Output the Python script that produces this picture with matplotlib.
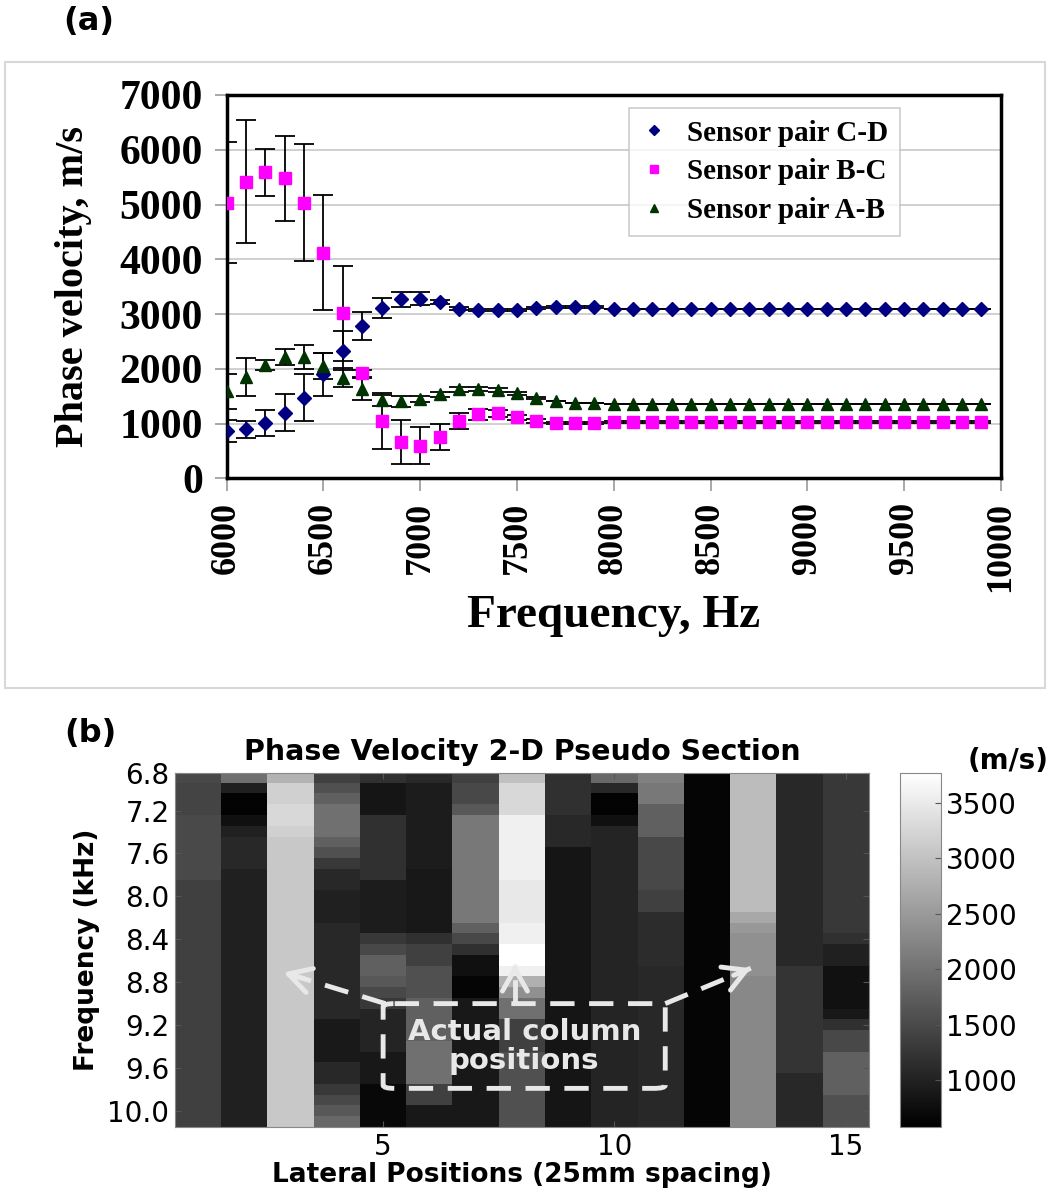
import numpy as np
import matplotlib
matplotlib.use("Agg")
import matplotlib.pyplot as plt
from matplotlib.patches import Rectangle, FancyBboxPatch

# (a) phase velocity vs frequency, three sensor pairs
freq = list(range(6000, 10000, 100))

cd_vel = [864, 895, 1017, 1199, 1473, 1899, 2331, 2782, 3104, 3269,
          3281, 3220, 3098, 3074, 3074, 3074, 3104, 3123, 3123, 3123,
          3100, 3100, 3100, 3100, 3100, 3100, 3100, 3100, 3100, 3100,
          3100, 3100, 3100, 3100, 3100, 3100, 3100, 3100, 3100, 3100]
cd_err = [200, 150, 240, 340, 425, 395, 360, 250, 183, 140,
          120, 40, 30, 20, 20, 20, 20, 20, 20, 20,
          0, 0, 0, 0, 0, 0, 0, 0, 0, 0,
          0, 0, 0, 0, 0, 0, 0, 0, 0, 0]

bc_vel = [5034, 5418, 5588, 5478, 5034, 4121, 3013, 1917, 1047, 670,
          597, 761, 1053, 1175, 1187, 1114, 1047, 1017, 1017, 1015,
          1030, 1030, 1030, 1030, 1030, 1030, 1030, 1030, 1030, 1030,
          1030, 1030, 1030, 1030, 1030, 1030, 1030, 1030, 1030, 1030]
bc_err = [1100, 1120, 426, 780, 1065, 1053, 870, 60, 515, 400,
          340, 235, 145, 100, 70, 50, 30, 20, 20, 20,
          15, 15, 15, 15, 15, 15, 15, 15, 15, 15,
          15, 15, 15, 15, 15, 15, 15, 15, 15, 15]

ab_vel = [1595, 1857, 2070, 2210, 2210, 2051, 1838, 1625, 1430, 1412,
          1449, 1534, 1625, 1631, 1613, 1552, 1461, 1412, 1382, 1370,
          1360, 1360, 1360, 1360, 1360, 1360, 1360, 1360, 1360, 1360,
          1360, 1360, 1360, 1360, 1360, 1360, 1360, 1360, 1360, 1360]
ab_err = [320, 350, 100, 145, 220, 240, 170, 200, 100, 100,
          60, 40, 40, 40, 40, 30, 20, 0, 0, 0,
          0, 0, 0, 0, 0, 0, 0, 0, 0, 0,
          0, 0, 0, 0, 0, 0, 0, 0, 0, 0]

# (b) pseudo section, one list per lateral position (33 rows, top to bottom)
pos1 = [1480] + [1430]*3 + [1500]*6 + [1380]*23
pos2 = [1980, 980, 620, 620, 780, 980] + [1100]*3 + [1000]*24
pos3 = [2830, 3180, 3180, 3280, 3280, 3180] + [3080]*27
pos4 = [1380, 1580, 1780, 1980, 1980, 1980, 1780, 1580, 1280, 1080, 1080,
        1000, 1000, 1000] + [1080]*9 + [900]*4 + [1080, 1080, 1280, 1480, 1680, 1880]
pos5 = [1180] + [840]*3 + [1180]*6 + [930]*5 + [1280, 1480, 1780, 1780, 1680,
        1480, 1280] + [1040]*4 + [880]*3 + [680]*4
pos6 = [1100] + [930]*8 + [880]*6 + [1180, 1380, 1380] + [1580]*3 + [1780]*4 \
       + [1980]*4 + [1380, 1380, 880, 880]
pos7 = [1380, 1480, 1480, 1680] + [2080]*10 + [1780, 1480, 1180, 780, 780,
        640, 640] + [880]*12
pos8 = [2980] + [3280]*3 + [3580]*6 + [3480]*4 + [3580, 3580, 3770, 3770, 3580,
        2780, 2380, 1980, 1980, 1380, 1380, 1380] + [1580]*7
pos9 = [1180]*4 + [1080]*3 + [840]*26
pos10 = [1880, 1080, 620, 620, 780] + [1030]*28
pos11 = [2180, 2080, 2080] + [1780]*3 + [1480]*5 + [1380]*2 + [1130]*5 + [1080]*15
pos12 = [640]*33
pos13 = [2930]*13 + [2680, 2480] + [2380]*4 + [2280]*14
pos14 = [1080]*18 + [1230]*10 + [1080]*5
pos15 = [1280]*15 + [1180, 980, 980, 800, 800, 800, 800, 880, 1180, 1480, 1480] \
        + [1780]*4 + [1580]*3

freq_ticks = [7.2, 7.6, 8.0, 8.4, 8.8, 9.2, 9.6, 10.0]
cbar_ticks = [1000, 1500, 2000, 2500, 3000, 3500]

serif = "Liberation Serif"
sans = "DejaVu Sans"

fig = plt.figure(figsize=(10.56, 11.96), dpi=100)

# light frame around the top chart
fig.patches.append(Rectangle((0.005, 0.425), 0.985, 0.523, transform=fig.transFigure,
                             fill=False, edgecolor="#d8d8d8", linewidth=1.5))

ax = fig.add_axes([0.2147, 0.600, 0.733, 0.3206])
ax.set_xlim(6000, 10000)
ax.set_ylim(0, 7000)
ax.set_yticks(range(0, 7001, 1000))
ax.set_xticks(range(6000, 10001, 500))
ax.grid(axis="y", color="#c8c8c8", linewidth=1.2)
ax.set_axisbelow(True)
for s in ax.spines.values():
    s.set_linewidth(2.5)

ax.errorbar(freq, cd_vel, yerr=cd_err, fmt="D", color="#000080", ms=7,
            ecolor="black", elinewidth=1.3, capsize=7, capthick=1.3,
            label="Sensor pair C-D", zorder=3)
ax.errorbar(freq, bc_vel, yerr=bc_err, fmt="s", color="#ff00ff", ms=8,
            ecolor="black", elinewidth=1.3, capsize=7, capthick=1.3,
            label="Sensor pair B-C", zorder=3)
ax.errorbar(freq, ab_vel, yerr=ab_err, fmt="^", color="#003300", ms=8,
            ecolor="black", elinewidth=1.3, capsize=7, capthick=1.3,
            label="Sensor pair A-B", zorder=3)

ax.tick_params(direction="out", length=9, color="#999999", width=1.2, pad=8)
for lab in ax.get_yticklabels():
    lab.set_fontfamily(serif)
    lab.set_fontweight("bold")
    lab.set_fontsize(30)
for lab in ax.get_xticklabels():
    lab.set_fontfamily(serif)
    lab.set_fontweight("bold")
    lab.set_fontsize(26)
    lab.set_rotation(90)
ax.set_ylabel("Phase velocity, m/s", fontfamily=serif, fontweight="bold",
              fontsize=29, labelpad=20)
ax.set_xlabel("Frequency, Hz", fontfamily=serif, fontweight="bold",
              fontsize=34, labelpad=2)

h, l = ax.get_legend_handles_labels()
h = [x[0] for x in h]
leg = ax.legend(h, l, loc="upper right", bbox_to_anchor=(0.87, 0.966),
                borderaxespad=0,
                prop={"family": serif, "weight": "bold", "size": 21},
                frameon=True, fancybox=False, edgecolor="#c0c0c0",
                handlelength=0.9, handletextpad=0.7, borderpad=0.4,
                labelspacing=0.4, markerscale=0.75)
leg.get_frame().set_linewidth(1.2)

fig.text(0.084, 0.982, "(a)", fontfamily=sans, fontweight="bold", fontsize=23,
         ha="center", va="center")

# (b) heatmap
sec = np.column_stack([pos1, pos2, pos3, pos4, pos5, pos6, pos7, pos8,
                       pos9, pos10, pos11, pos12, pos13, pos14, pos15])

ax2 = fig.add_axes([0.1657, 0.0577, 0.657, 0.296])
im = ax2.imshow(sec, cmap="gray", vmin=576, vmax=3770, aspect="auto",
                extent=(0.5, 15.5, 10.15, 6.85), interpolation="nearest")
ax2.set_yticks([6.85] + freq_ticks)
ax2.set_yticklabels(["6.8"] + ["%.1f" % f for f in freq_ticks], fontfamily=sans,
                    fontsize=20)
ax2.set_xticks([5, 10, 15])
ax2.set_xticklabels(["5", "10", "15"], fontfamily=sans, fontsize=20)
ax2.tick_params(direction="in", length=4, color="#555555", top=True, right=True,
                pad=4)
for s in ax2.spines.values():
    s.set_color("#888888")
ax2.set_title("Phase Velocity 2-D Pseudo Section", fontfamily=sans,
              fontweight="bold", fontsize=20.5, pad=9)
ax2.set_ylabel("Frequency (kHz)", fontfamily=sans, fontweight="bold", fontsize=19,
               labelpad=5)
ax2.set_xlabel("Lateral Positions (25mm spacing)", fontfamily=sans,
               fontweight="bold", fontsize=19, labelpad=1)

# annotation: dashed box and arrows toward the columns
ann_col = "#e8e8e8"
box = FancyBboxPatch((5.0, 9.0), 6.1, 0.79, boxstyle="round,pad=0,rounding_size=0.25",
                     mutation_aspect=0.12, fill=False, edgecolor=ann_col,
                     linewidth=3.5, linestyle=(0, (5, 3)))
ax2.add_patch(box)
ax2.text(8.05, 9.40, "Actual column\npositions", color=ann_col, fontfamily=sans,
         fontweight="bold", fontsize=21, ha="center", va="center", linespacing=1.05)
arrows = [((5.05, 9.0), (2.85, 8.71)), ((7.85, 9.0), (7.85, 8.63)),
          ((11.1, 9.0), (12.95, 8.67))]
for (x0, y0), (x1, y1) in arrows:
    ax2.plot([x0, x1], [y0, y1], color=ann_col, lw=3.5, ls=(0, (5, 3)))
    ax2.annotate("", xy=(x1, y1), xytext=(x1 + (x0 - x1) * 0.2, y1 + (y0 - y1) * 0.2),
                 arrowprops=dict(arrowstyle="->,head_length=0.8,head_width=0.45",
                                 mutation_scale=20, color=ann_col, lw=3.5,
                                 shrinkA=0, shrinkB=0))

cax = fig.add_axes([0.852, 0.0577, 0.0395, 0.296])
cb = fig.colorbar(im, cax=cax, ticks=cbar_ticks)
cb.ax.tick_params(labelsize=20, direction="in", length=4, color="#555555")
for lab in cb.ax.get_yticklabels():
    lab.set_fontfamily(sans)
cb.outline.set_edgecolor("#888888")
fig.text(0.955, 0.364, "(m/s)", fontfamily=sans, fontweight="bold", fontsize=20,
         ha="center", va="center")
fig.text(0.086, 0.387, "(b)", fontfamily=sans, fontweight="bold", fontsize=23,
         ha="center", va="center")

fig.savefig("out.png", dpi=100)
